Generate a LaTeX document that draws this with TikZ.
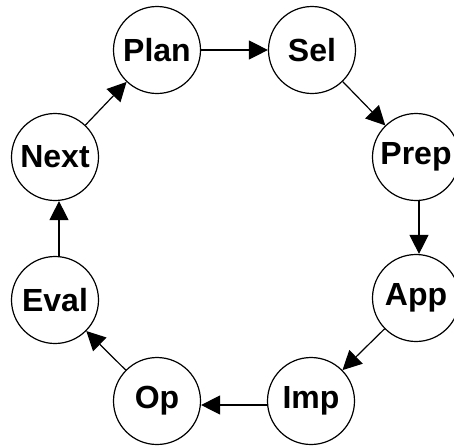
\documentclass[tikz,border=0pt]{standalone}
\usepackage{fontspec}
\setmainfont{Liberation Sans}
\usetikzlibrary{arrows.meta}

\begin{document}
\begin{tikzpicture}[x=1pt,y=-1pt]

        \useasboundingbox (0,0) rectangle (454,445);

        \begin{scope}[every node/.style={circle,draw,line width=1.2pt,minimum size=87pt,inner sep=0pt,font=\fontsize{32}{38}\selectfont\bfseries}]
          \node (plan) at (157,50)  {Plan};
          \node (sel)  at (312,50)  {Sel};
          \node (prep) at (416,157) {Prep};
          \node (app)  at (416,298) {App};
          \node (imp)  at (311,401) {Imp};
          \node (op)   at (157,401) {Op};
          \node (eval) at (55,300)  {Eval};
          \node (next) at (55,157)  {Next};
        \end{scope}

        \begin{scope}[every edge/.style={draw,line width=1.2pt,-{Triangle[length=19pt,width=19pt]}}]
          \path (plan) edge (sel);
          \path (sel)  edge (prep);
          \path ([xshift=3pt]prep.south) edge ([xshift=3pt]app.north);
          \path (app)  edge (imp);
          \path ([yshift=-4pt]imp.west) edge ([yshift=-4pt]op.east);
          \path (op)   edge (eval);
          \path ([xshift=4pt]eval.north) edge ([xshift=4pt]next.south);
          \path (next) edge (plan);
        \end{scope}

      \end{tikzpicture}
\end{document}
